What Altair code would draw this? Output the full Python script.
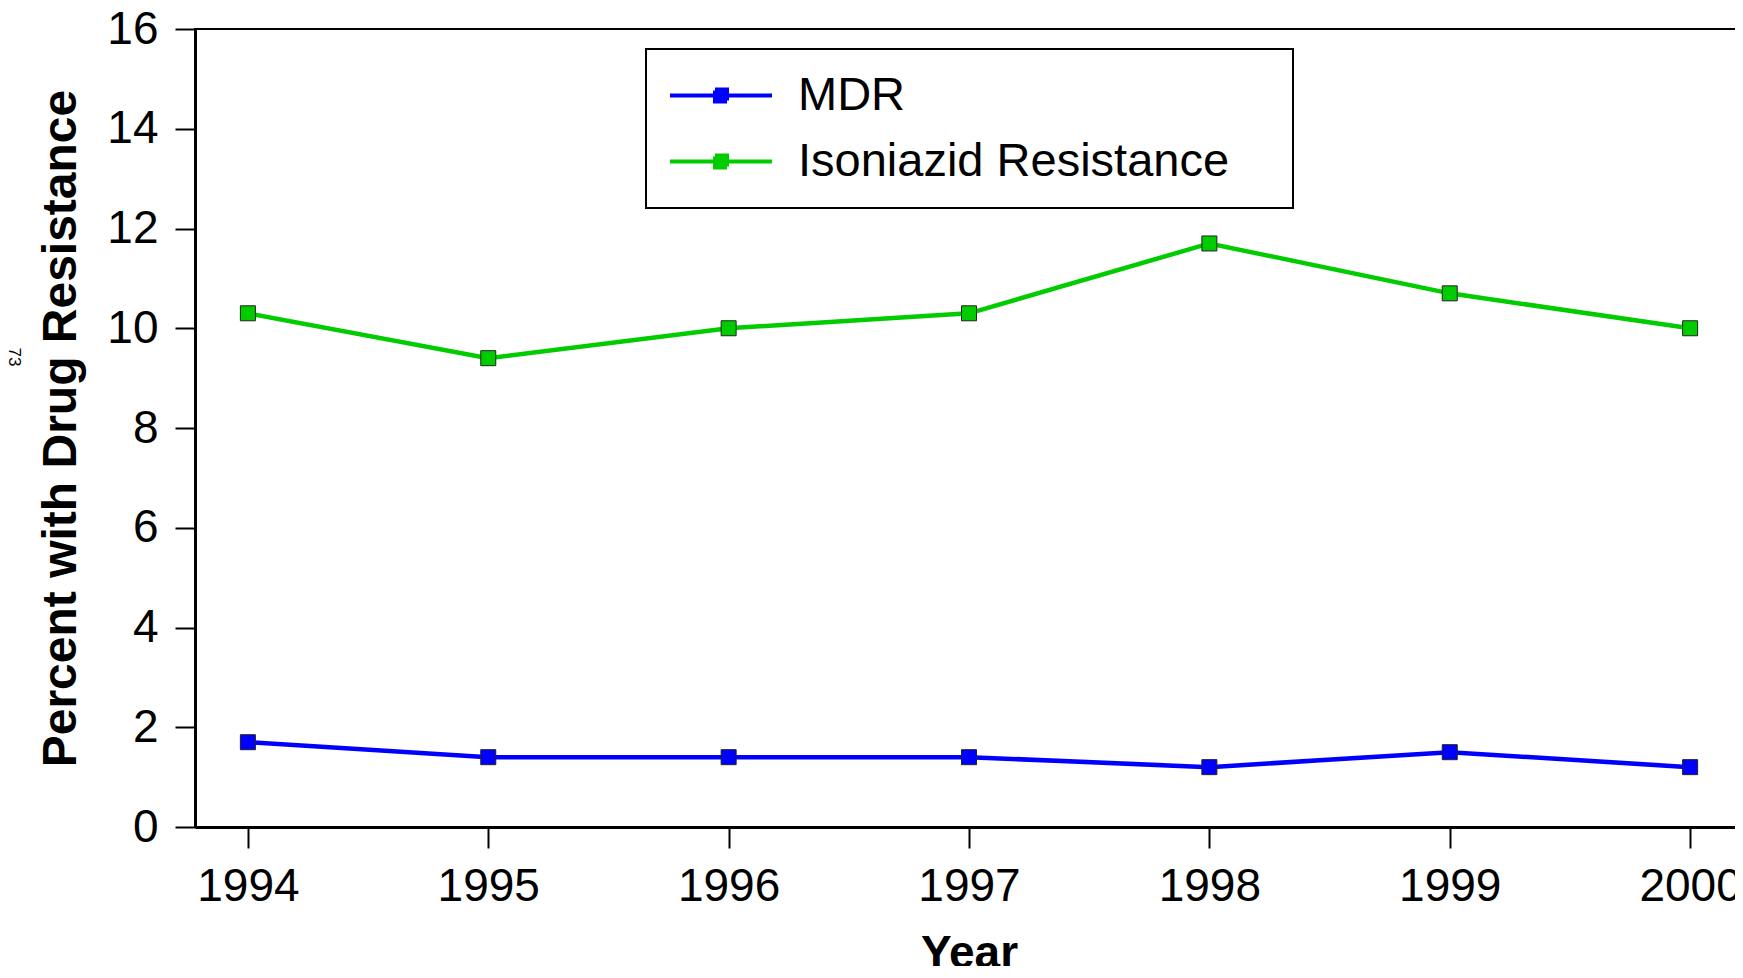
import altair as alt
import pandas as pd

# ---- data ----
years = [1994, 1995, 1996, 1997, 1998, 1999, 2000]
mdr_values = [1.7, 1.4, 1.4, 1.4, 1.2, 1.5, 1.2]
isoniazid_values = [10.3, 9.4, 10.0, 10.3, 11.7, 10.7, 10.0]
series_names = ["MDR", "Isoniazid Resistance"]
series_colors = ["#0000FF", "#00CC00"]
y_ticks = [0, 2, 4, 6, 8, 10, 12, 14, 16]
x_title = "Year"
y_title = "Percent with Drug Resistance"
superscript = ["73"]

FONT = "Liberation Sans"

df = pd.DataFrame({
    "Year": years + years,
    "Value": mdr_values + isoniazid_values,
    "Series": [series_names[0]] * len(years) + [series_names[1]] * len(years),
})
note_df = pd.DataFrame({"note": superscript})

x_scale = alt.Scale(domain=[1993.78, 2000.22], nice=False, zero=False)
y_scale = alt.Scale(domain=[0, 16], nice=False)

x_axis = alt.Axis(
    values=years, format="d", title=x_title, grid=False,
    tickSize=21, labelPadding=16, labelFontSize=46,
    titleFontSize=46, titleFontWeight="bold",
    titleX=774, titleY=140, titleBaseline="alphabetic", titleAlign="center",
)
y_axis = alt.Axis(
    values=y_ticks, title=y_title, grid=False,
    tickSize=20, labelPadding=17, labelFontSize=46,
    titleFontSize=48, titleFontWeight="bold",
    titleX=-120, titleY=399, titleAngle=-90,
    titleBaseline="alphabetic", titleAlign="center",
)

color_scale = alt.Scale(domain=series_names, range=series_colors)

symbol_path = ("M-1,0H1M-0.118,-0.118H0.118V-0.059H-0.118V0H0.118"
               "V0.059H-0.118V0.118H0.118")

legend = alt.Legend(
    title="\u2014", titleOrient="right", titleOpacity=0, titleFontSize=40,
    titlePadding=2,
    orient="none", legendX=451, legendY=20,
    symbolType=symbol_path, symbolSize=10404, symbolStrokeWidth=4,
    labelFontSize=47, labelOffset=24, rowPadding=17, padding=22,
    labelLimit=800, clipHeight=49,
    strokeColor="black", fillColor="white",
)

lines = alt.Chart(df).mark_line(strokeWidth=4.5).encode(
    x=alt.X("Year:Q", scale=x_scale, axis=x_axis),
    y=alt.Y("Value:Q", scale=y_scale, axis=y_axis),
    color=alt.Color("Series:N", scale=color_scale, legend=legend,
                    sort=series_names),
    detail="Series:N",
)

points = alt.Chart(df).mark_point(
    shape="square", filled=True, size=225, stroke="#222222",
    strokeWidth=1, opacity=1,
).encode(
    x=alt.X("Year:Q", scale=x_scale),
    y=alt.Y("Value:Q", scale=y_scale),
    fill=alt.Fill("Series:N", scale=alt.Scale(domain=series_names,
                                               range=series_colors),
                  legend=None),
)

note = alt.Chart(note_df).mark_text(
    angle=90, fontSize=17, font=FONT, align="center", baseline="middle",
    color="black",
).encode(x=alt.value(-181), y=alt.value(328), text="note:N")

chart = alt.layer(lines, points, note).properties(
    width=1548, height=798,
    autosize=alt.AutoSizeParams(type="none"),
    padding={"left": 187, "top": 21, "right": -8, "bottom": 139},
).configure(
    font=FONT,
).configure_view(
    stroke="black", strokeWidth=2,
).configure_axis(
    domainColor="black", domainWidth=3, tickColor="black", tickWidth=2,
    labelColor="black", titleColor="black", labelFont=FONT, titleFont=FONT,
).configure_legend(
    labelFont=FONT, labelColor="black", strokeWidth=2,
)

chart.save("out.html", embed_options={"renderer": "svg", "actions": False})
